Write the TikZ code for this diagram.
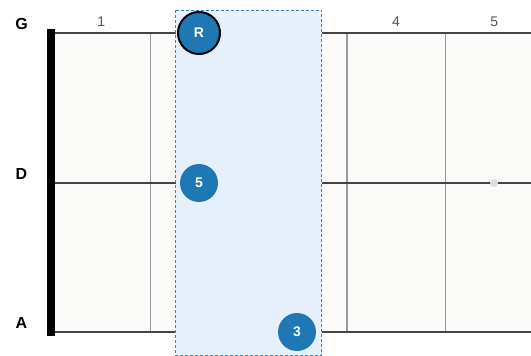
\documentclass[tikz,border=0pt]{standalone}
\usepackage{fontspec}
\setmainfont{Liberation Sans}

\definecolor{boardfill}{HTML}{FAFAF8}
\definecolor{stringgray}{HTML}{444444}
\definecolor{fretgray}{HTML}{999999}
\definecolor{numgray}{HTML}{555555}
\definecolor{boxfill}{HTML}{E6F0FA}
\definecolor{boxline}{HTML}{3F7FB6}
\definecolor{notefill}{HTML}{1F77B4}
\definecolor{inlaygray}{HTML}{DDDDDD}

\begin{document}
\begin{tikzpicture}[
    x=1pt,
    y=-1pt,
    note/.style={
        circle,
        fill=notefill,
        text=white,
        inner sep=0pt,
        minimum size=38pt,
        font=\bfseries\fontsize{14}{14}\selectfont
    },
    rootnote/.style={
        note,
        draw=black,
        line width=2pt,
        minimum size=42pt
    },
    stringname/.style={
        inner sep=0pt,
        font=\bfseries\fontsize{16}{16}\selectfont
    },
    fretnum/.style={
        inner sep=0pt,
        text=numgray,
        font=\fontsize{14}{14}\selectfont
    },
    inlay/.style={
        circle,
        fill=inlaygray,
        inner sep=0pt,
        minimum size=8pt
    }
]
    \useasboundingbox (0,0) rectangle (531,356);

    % Board geometry
    \def\boardleft{55}
    \def\boardright{531}
    \def\boardtop{33}
    \def\boardbottom{332}
    \def\fretw{98.3}

    % Fretboard background
    \fill[boardfill] (\boardleft,\boardtop) rectangle (\boardright,\boardbottom);

    % Fret wires
    \foreach \i in {1,...,4} {
        \draw[fretgray, line width=1.2pt]
            (52+\i*\fretw,\boardtop) -- (52+\i*\fretw,\boardbottom);
    }

    % Strings
    \foreach \y/\name in {33/G,183/D,332/A} {
        \draw[stringgray, line width=1.3pt] (\boardleft,\y) -- (\boardright,\y);
        \node[stringname] (label\name) at (21.5,\y-9.5) {\name};
    }

    % Nut
    \fill[black] (47,29) rectangle (\boardleft,336);

    % Fret numbers outside the box
    \foreach \i in {1,4,5} {
        \node[fretnum] (num\i) at (52+\i*\fretw-0.5*\fretw,21.5) {\i};
    }

    % Highlighted box
    \fill[boxfill] (175.5,10) rectangle (321.5,355.5);
    \draw[boxline, line width=0.8pt, dash pattern=on 3pt off 2pt]
        (175.5,10) rectangle (321.5,355.5);

    % Inlay marker
    \node[inlay] (inlayD5) at (494,183) {};

    % Chord tones
    \node[rootnote] (rootG) at (199,33) {R};
    \node[note] (fifthD) at (199,183) {5};
    \node[note] (thirdA) at (297,332) {3};
\end{tikzpicture}
\end{document}
